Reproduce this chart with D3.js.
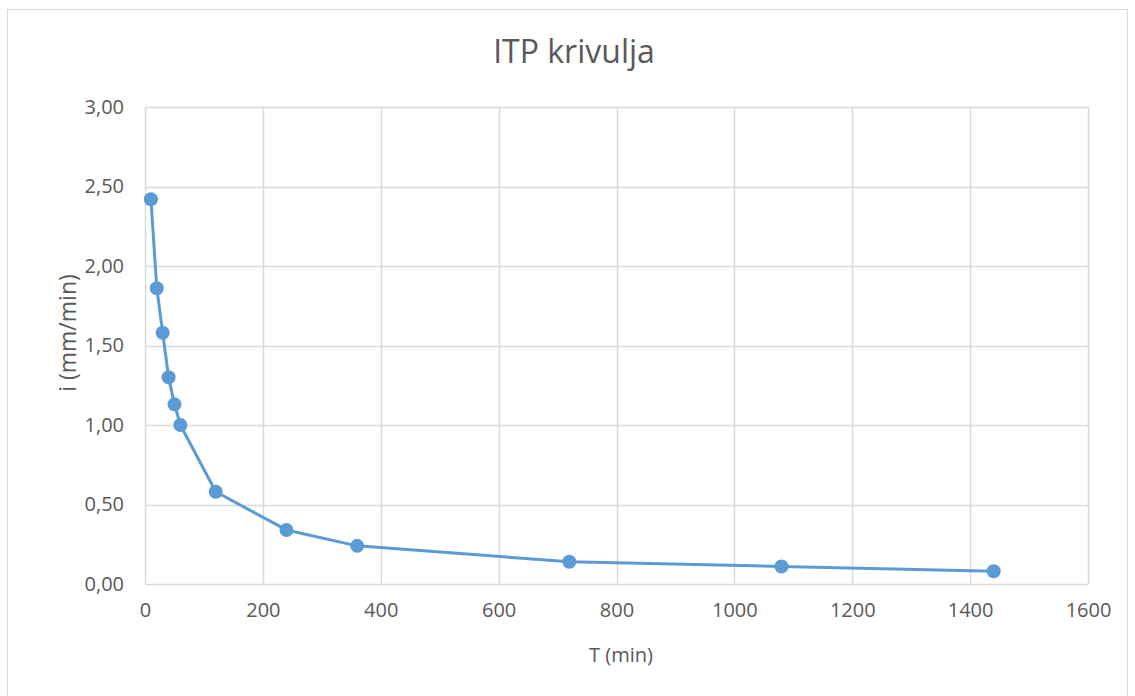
<!DOCTYPE html>
<html>
<head>
<meta charset="utf-8">
<script src="https://cdn.jsdelivr.net/npm/d3@7"></script>
<style>
  html, body { margin: 0; padding: 0; background: #fff; }
  svg { display: block; }
  text { font-family: "Open Sans", "Noto Sans", sans-serif; fill: #595959; }
</style>
</head>
<body>
<svg id="chart" width="1135" height="696"></svg>
<script>
// Duration T (min) and intensity i (mm/min)
const durations = [10, 20, 30, 40, 50, 60, 120, 240, 360, 720, 1080, 1440];
const intensities = [2.42, 1.86, 1.58, 1.30, 1.13, 1.00, 0.58, 0.34, 0.24, 0.14, 0.11, 0.08];
const xTicks = [0, 200, 400, 600, 800, 1000, 1200, 1400, 1600];
const yTicks = [0, 0.5, 1.0, 1.5, 2.0, 2.5, 3.0];

const chartTitle = "ITP krivulja";
const xTitle = "T (min)";
const yTitle = "i (mm/min)";

const svg = d3.select("#chart");
const plot = { left: 145, right: 1088, top: 107, bottom: 584 };
const color = "#5B9BD5";
const gridColor = "#d9d9d9";
const fontStack = "'Open Sans', 'Noto Sans', sans-serif";

// Outer chart frame
svg.append("rect")
  .attr("x", 7.5).attr("y", 9.5)
  .attr("width", 1120).attr("height", 700)
  .attr("fill", "#fff").attr("stroke", gridColor).attr("stroke-width", 1);

const x = d3.scaleLinear().domain([0, 1600]).range([plot.left, plot.right]);
const y = d3.scaleLinear().domain([0, 3]).range([plot.bottom, plot.top]);

const fmt = v => d3.format(".2f")(v).replace(".", ",");

// Gridlines
const grid = svg.append("g");
grid.selectAll("line.h").data(yTicks).join("line")
  .attr("x1", plot.left).attr("x2", plot.right)
  .attr("y1", d => Math.round(y(d)) + 0.5).attr("y2", d => Math.round(y(d)) + 0.5)
  .attr("stroke", gridColor).attr("stroke-width", 1.5);
grid.selectAll("line.v").data(xTicks).join("line")
  .attr("y1", plot.top).attr("y2", plot.bottom)
  .attr("x1", d => Math.round(x(d)) + 0.5).attr("x2", d => Math.round(x(d)) + 0.5)
  .attr("stroke", gridColor).attr("stroke-width", 1.5);

// Axes (labels only, lines drawn by grid)
const xAxis = d3.axisBottom(x).tickValues(xTicks).tickSize(0).tickPadding(19).tickFormat(d3.format("d"));
const gx = svg.append("g").attr("transform", `translate(0,${plot.bottom})`).call(xAxis);
gx.select(".domain").remove();
gx.selectAll("text").style("font-size", "20px").attr("fill", "#595959").style("font-family", fontStack);

const yAxis = d3.axisLeft(y).tickValues(yTicks).tickSize(0).tickPadding(21).tickFormat(fmt);
const gy = svg.append("g").attr("transform", `translate(${plot.left},0)`).call(yAxis);
gy.select(".domain").remove();
gy.selectAll("text").style("font-size", "20px").attr("fill", "#595959").style("font-family", fontStack);

// Series line
const line = d3.line().x((d, i) => x(durations[i])).y(d => y(d));
svg.append("path")
  .datum(intensities)
  .attr("d", line)
  .attr("fill", "none")
  .attr("stroke", color)
  .attr("stroke-width", 3)
  .attr("stroke-linejoin", "round");

// Markers
svg.append("g").selectAll("circle").data(intensities).join("circle")
  .attr("cx", (d, i) => x(durations[i]))
  .attr("cy", d => y(d))
  .attr("r", 7)
  .attr("fill", color);

// Titles
svg.append("text")
  .attr("x", 574).attr("y", 63)
  .attr("text-anchor", "middle")
  .style("font-size", "32px")
  .text(chartTitle);

svg.append("text")
  .attr("x", 621).attr("y", 662)
  .attr("text-anchor", "middle")
  .style("font-size", "20px")
  .text(xTitle);

svg.append("text")
  .attr("transform", `translate(76,333) rotate(-90)`)
  .attr("text-anchor", "middle")
  .style("font-size", "23px")
  .text(yTitle);
</script>
</body>
</html>
